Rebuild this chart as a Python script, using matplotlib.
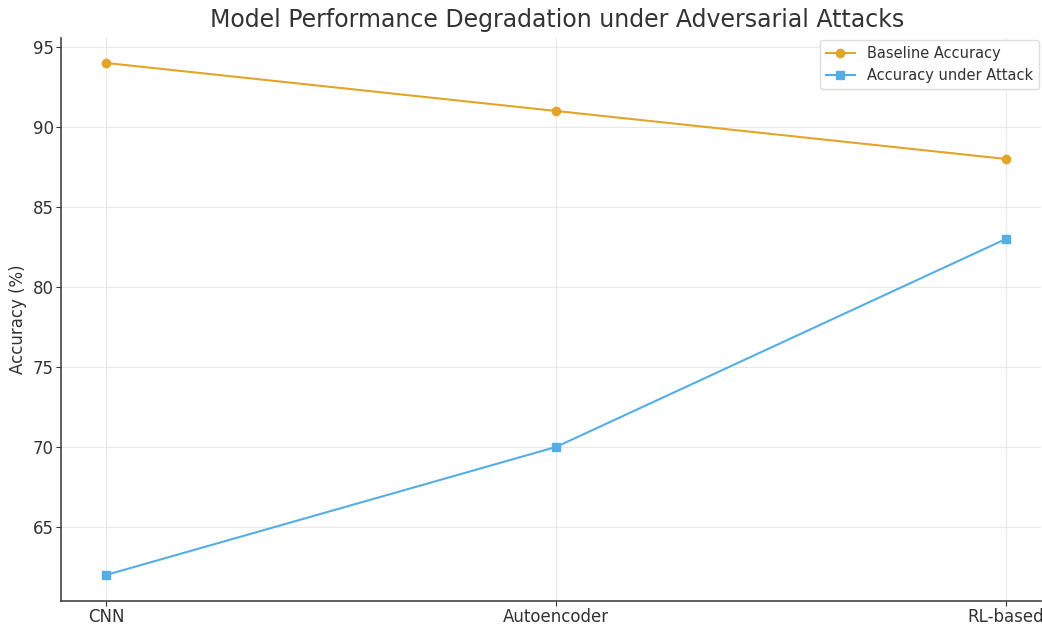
import matplotlib.pyplot as plt

models = ["CNN", "Autoencoder", "RL-based"]
baseline_acc = [94, 91, 88]
attack_acc = [62, 70, 83]

fig = plt.figure(figsize=(10.42, 6.24), dpi=100)
ax = fig.add_axes([61 / 1042, 23 / 624, 980 / 1042, 563 / 624])

ax.plot(models, baseline_acc, marker="o", markersize=6, color="#E2A52A",
        linewidth=1.5, label="Baseline Accuracy")
ax.plot(models, attack_acc, marker="s", markersize=6, color="#55AEE3",
        linewidth=1.5, label="Accuracy under Attack")

ax.set_xlim(-0.1, 2.078)
ax.set_ylim(60.375, 95.56)
ax.set_yticks([65, 70, 75, 80, 85, 90, 95])
ax.grid(True, color="#E8E8E8", linewidth=0.8)
ax.set_axisbelow(True)
for side in ["top", "right"]:
    ax.spines[side].set_visible(False)
for side in ["left", "bottom"]:
    ax.spines[side].set_color("#444444")
    ax.spines[side].set_linewidth(1.2)
ax.tick_params(labelsize=12, colors="#333333", length=3.5, pad=1.5)
ax.tick_params(axis="both", labelcolor="#333333")

ax.set_ylabel("Accuracy (%)", fontsize=12, color="#333333", labelpad=4)
fig.text(557 / 1042, 1 - 20 / 624,
         "Model Performance Degradation under Adversarial Attacks",
         ha="center", va="center", fontsize=17, color="#333333")
ax.legend(loc="upper right", fontsize=10.5, frameon=True, framealpha=1,
          edgecolor="#DDDDDD", labelcolor="#333333",
          bbox_to_anchor=(1.002, 1.004), borderaxespad=0.3)

fig.savefig("out.png", dpi=100)
